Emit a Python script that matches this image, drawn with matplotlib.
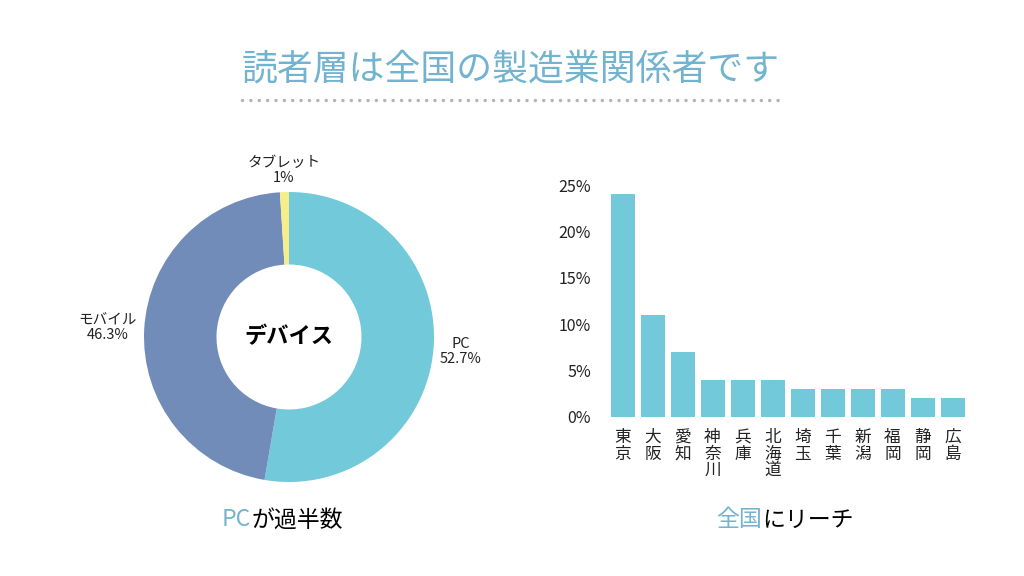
import matplotlib
matplotlib.use("Agg")
import matplotlib.pyplot as plt
from matplotlib.lines import Line2D
from matplotlib.ticker import PercentFormatter
import numpy as np

plt.rcParams["font.family"] = ["Noto Sans CJK JP", "DejaVu Sans"]

# ---------------- data ----------------
device_labels = ["PC", "モバイル", "タブレット"]
device_share = [52.7, 46.3, 1.0]
device_pct_text = ["52.7%", "46.3%", "1%"]

prefectures = ["東京", "大阪", "愛知", "神奈川", "兵庫", "北海道",
               "埼玉", "千葉", "新潟", "福岡", "静岡", "広島"]
reach_pct = [24, 11, 7, 4, 4, 4, 3, 3, 3, 3, 2, 2]

# ---------------- style ----------------
BLUE_TITLE = "#72b3cf"
PC_COLOR = "#72c9da"
MOBILE_COLOR = "#728cba"
TABLET_COLOR = "#f6ee8a"
BAR_COLOR = "#72c9da"
TEXT = "#222222"
DOT_GRAY = "#b4b4b4"

W, H = 1024, 576
fig = plt.figure(figsize=(W / 100, H / 100), dpi=100)
fig.patch.set_facecolor("white")

# ---------------- title + dotted rule ----------------
fig.text(511 / W, 1 - 70 / H, "読者層は全国の製造業関係者です",
         ha="center", va="center", fontsize=25.8, color=BLUE_TITLE)
fig.add_artist(Line2D([242 / W, 780 / W], [1 - 100 / H, 1 - 100 / H],
                      transform=fig.transFigure, color=DOT_GRAY,
                      lw=2.5, linestyle=(0, (0.01, 2.4)),
                      dash_capstyle="round", solid_capstyle="round"))

# ---------------- donut ----------------
cx, cy, R = 289, 337, 145
ax_pie = fig.add_axes([(cx - R) / W, 1 - (cy + R) / H, 2 * R / W, 2 * R / H])
wedges, _ = ax_pie.pie(device_share,
                       colors=[PC_COLOR, MOBILE_COLOR, TABLET_COLOR],
                       startangle=90, counterclock=False,
                       wedgeprops=dict(width=0.5, linewidth=0))
ax_pie.set_xlim(-1, 1)
ax_pie.set_ylim(-1, 1)
ax_pie.set_aspect("equal")

label_dist = [1.19, 1.25, 1.15]
for w, name, pct, d in zip(wedges, device_labels, device_pct_text, label_dist):
    mid = np.deg2rad((w.theta1 + w.theta2) / 2)
    ax_pie.text(d * np.cos(mid), d * np.sin(mid), f"{name}\n{pct}",
                ha="center", va="center", fontsize=10.5, color=TEXT,
                linespacing=1.05)

ax_pie.text(0, 0, "デバイス", ha="center", va="center",
            fontsize=16, fontweight="bold", color="black")

# ---------------- bar chart ----------------
left, right = 607.5, 967.5
bottom, top = 416.7, 185
ax_bar = fig.add_axes([left / W, 1 - bottom / H, (right - left) / W, (bottom - top) / H])
x = np.arange(len(prefectures))
ax_bar.bar(x, reach_pct, width=0.8, color=BAR_COLOR)
ax_bar.set_xlim(-0.5, len(prefectures) - 0.5)
ax_bar.set_ylim(0, 25)
ax_bar.set_yticks(np.arange(0, 26, 5))
ax_bar.yaxis.set_major_formatter(PercentFormatter(decimals=0))
ax_bar.set_xticks(x)
ax_bar.set_xticklabels(["\n".join(p) for p in prefectures])
for lbl in ax_bar.get_xticklabels():
    lbl.set_linespacing(0.95)
ax_bar.tick_params(axis="x", length=0, pad=9, labelsize=12, colors=TEXT)
ax_bar.tick_params(axis="y", length=0, pad=12, labelsize=11.5, colors=TEXT)
for s in ax_bar.spines.values():
    s.set_visible(False)

# ---------------- captions ----------------
def two_tone(xpos, ypos, blue_part, black_part):
    t1 = fig.text(xpos / W, 1 - ypos / H, blue_part, ha="left", va="center",
                  fontsize=16.5, color=BLUE_TITLE)
    fig.canvas.draw()
    bb = t1.get_window_extent()
    fig.text(bb.x1 / W, 1 - ypos / H, black_part, ha="left", va="center",
             fontsize=16.5, color="black")

two_tone(222, 520, "PC", "が過半数")
two_tone(716, 520, "全国", "にリーチ")

fig.savefig("out.png", dpi=100, facecolor="white")
